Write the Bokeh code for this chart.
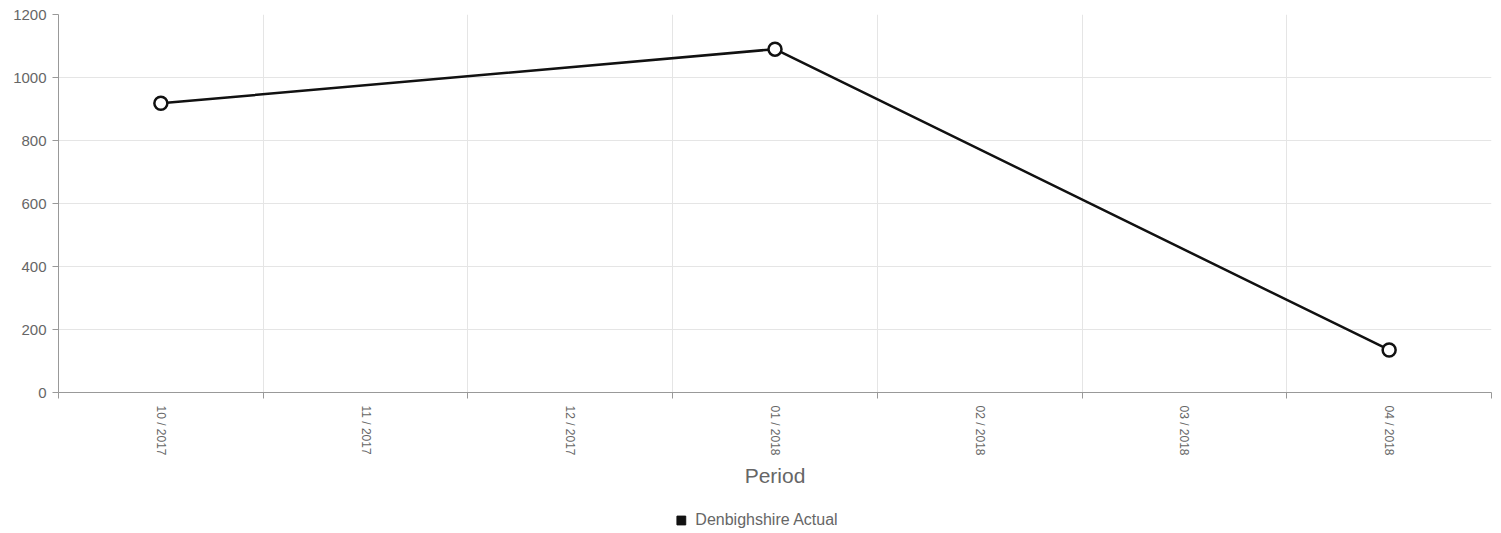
import math
from bokeh.plotting import figure
from bokeh.layouts import column
from bokeh.models import FixedTicker, Legend, LegendItem, ColumnDataSource, Range1d
from bokeh.embed import file_html
from bokeh.resources import INLINE

periods = ["10 / 2017", "11 / 2017", "12 / 2017", "01 / 2018", "02 / 2018", "03 / 2018", "04 / 2018"]
actual = [918, None, None, 1090, None, None, 135]
series_name = "Denbighshire Actual"
y_ticks = [0, 200, 400, 600, 800, 1000, 1200]

xs = [i + 0.5 for i, v in enumerate(actual) if v is not None]
ys = [v for v in actual if v is not None]
src = ColumnDataSource(dict(x=xs, y=ys))

p = figure(width=1499, height=488, frame_width=1433, frame_height=378,
           output_backend="svg", toolbar_location=None,
           x_range=Range1d(0, len(periods)), y_range=Range1d(0, 1200),
           min_border_left=58, min_border_top=14, min_border_right=8, min_border_bottom=0)
p.outline_line_color = None

FONT = "Liberation Sans"
GRID = "#e5e5e5"
AX = "#999999"
TXT = "#666666"

# x axis
p.xaxis.ticker = FixedTicker(ticks=[i + 0.5 for i in range(len(periods))],
                             minor_ticks=list(range(len(periods) + 1)))
p.xaxis.major_label_overrides = {i + 0.5: lab for i, lab in enumerate(periods)}
p.xaxis.major_label_orientation = -math.pi / 2
p.xaxis.major_tick_out = 0
p.xaxis.major_tick_in = 0
p.xaxis.minor_tick_out = 6
p.xaxis.minor_tick_in = 0
p.xaxis.minor_tick_line_color = AX
p.xaxis.axis_line_color = AX
p.xaxis.major_label_text_font = FONT
p.xaxis.major_label_text_font_size = "12px"
p.xaxis.major_label_text_color = TXT
p.xaxis.major_label_standoff = 7
p.xaxis.axis_label = "Period"
p.xaxis.axis_label_text_font = FONT
p.xaxis.axis_label_text_font_size = "21px"
p.xaxis.axis_label_text_font_style = "normal"
p.xaxis.axis_label_text_color = TXT
p.xaxis.axis_label_standoff = 5
p.xgrid.ticker = FixedTicker(ticks=list(range(len(periods) + 1)))
p.xgrid.grid_line_color = GRID

# y axis
p.yaxis.ticker = FixedTicker(ticks=y_ticks)
p.yaxis.minor_tick_line_color = None
p.yaxis.major_tick_out = 6
p.yaxis.major_tick_in = 0
p.yaxis.major_tick_line_color = AX
p.yaxis.axis_line_color = AX
p.yaxis.major_label_text_font = FONT
p.yaxis.major_label_text_font_size = "15px"
p.yaxis.major_label_text_color = TXT
p.yaxis.major_label_standoff = 6
p.ygrid.grid_line_color = GRID

p.line(x="x", y="y", source=src, line_color="#111111", line_width=2.5)
p.scatter(x="x", y="y", source=src, marker="circle", size=13,
          fill_color="white", line_color="#111111", line_width=2.5)

# legend strip below the chart
lg = figure(width=1499, height=45, output_backend="svg", toolbar_location=None,
            x_axis_type=None, y_axis_type=None,
            min_border_left=0, min_border_right=50, min_border_top=17, min_border_bottom=0)
lg.outline_line_color = None
lg.xgrid.visible = False
lg.ygrid.visible = False
proxy = lg.scatter(x="x", y="y", source=src, marker="square", size=0,
                   fill_color="#111111", line_color="#111111")
legend = Legend(items=[LegendItem(label=series_name, renderers=[proxy])],
                orientation="horizontal", location="center",
                label_text_font=FONT, label_text_font_size="16px",
                label_text_color=TXT, border_line_color=None,
                background_fill_alpha=0, glyph_width=22, glyph_height=22,
                label_height=22, label_standoff=4, padding=2, margin=0)
lg.add_layout(legend, "center")

layout = column(p, lg, spacing=0)
open("out.html", "w").write(file_html(layout, INLINE))
